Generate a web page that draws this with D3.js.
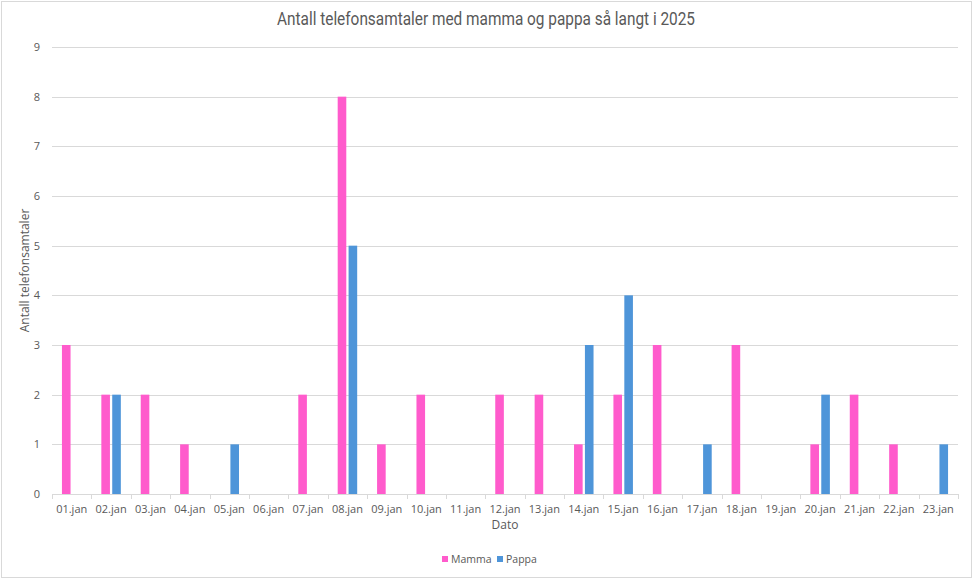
<!DOCTYPE html>
<html>
<head>
<meta charset="utf-8">
<script src="https://cdn.jsdelivr.net/npm/d3@7"></script>
<style>
  body { margin: 0; background: #fff; }
  svg text { font-family: "Open Sans", "Noto Sans", sans-serif; fill: #595959; }
</style>
</head>
<body>
<div id="chart"></div>
<script>
const dates = ["01.jan","02.jan","03.jan","04.jan","05.jan","06.jan","07.jan","08.jan","09.jan","10.jan","11.jan","12.jan",
  "13.jan","14.jan","15.jan","16.jan","17.jan","18.jan","19.jan","20.jan","21.jan","22.jan","23.jan"];
const mamma = [3,2,2,1,0,0,2,8,1,2,0,2,2,1,2,3,0,3,0,1,2,1,0];
const pappa = [0,2,0,0,1,0,0,5,0,0,0,0,0,3,4,0,1,0,0,2,0,0,1];
const seriesNames = ["Mamma", "Pappa"];
const colors = ["#FF5BCC", "#4E95D9"];
const yTicks = [0,1,2,3,4,5,6,7,8,9];

const W = 973, H = 580;
const margin = { top: 47, right: 15, bottom: 86, left: 52 };
const innerW = W - margin.left - margin.right;
const innerH = H - margin.top - margin.bottom;

const svg = d3.select("#chart").append("svg")
    .attr("width", W)
    .attr("height", H);

// outer chart border
svg.append("rect")
    .attr("x", 1.5).attr("y", 1.5)
    .attr("width", W - 3).attr("height", H - 4)
    .attr("fill", "#fff")
    .attr("stroke", "#d9d9d9");

svg.append("text")
    .attr("x", 486).attr("y", 25)
    .attr("text-anchor", "middle")
    .attr("textLength", 418)
    .attr("lengthAdjust", "spacingAndGlyphs")
    .style("font-family", "Roboto, 'Liberation Sans', sans-serif")
    .style("font-size", "18px")
    .text("Antall telefonsamtaler med mamma og pappa så langt i 2025");

const g = svg.append("g").attr("transform", `translate(${margin.left},${margin.top})`);

const x0 = d3.scaleBand().domain(dates).range([0, innerW]).padding(0);
const y = d3.scaleLinear().domain([0, 9]).range([innerH, 0]);
const half = 9.75;
const x1 = d3.scaleBand().domain(seriesNames)
    .range([x0.bandwidth() / 2 - half, x0.bandwidth() / 2 + half])
    .paddingInner(0.21);

// gridlines
g.append("g")
    .selectAll("line")
    .data(yTicks.filter(d => d > 0))
    .join("line")
    .attr("x1", 0).attr("x2", innerW)
    .attr("y1", d => Math.round(y(d)) + 0.5).attr("y2", d => Math.round(y(d)) + 0.5)
    .attr("stroke", "#d9d9d9");

// y axis labels
g.append("g")
    .selectAll("text")
    .data(yTicks)
    .join("text")
    .attr("x", -12)
    .attr("y", d => y(d) + 4)
    .attr("text-anchor", "end")
    .style("font-size", "11px")
    .text(d => d);

// bars
const rows = dates.map((d, i) => ({ date: d, values: [mamma[i], pappa[i]] }));
const groups = g.append("g")
    .selectAll("g")
    .data(rows)
    .join("g")
    .attr("transform", d => `translate(${x0(d.date)},0)`);

groups.selectAll("rect")
    .data(d => d.values.map((v, k) => ({ key: seriesNames[k], value: v, k })))
    .join("rect")
    .attr("x", d => x1(d.key))
    .attr("width", x1.bandwidth())
    .attr("y", d => y(d.value))
    .attr("height", d => y(0) - y(d.value))
    .attr("fill", d => colors[d.k]);

// x axis
const xAxis = g.append("g").attr("transform", `translate(0,${innerH})`);
xAxis.append("line")
    .attr("x1", 0).attr("x2", innerW)
    .attr("y1", 0.5).attr("y2", 0.5)
    .attr("stroke", "#d9d9d9");
xAxis.selectAll(".tick")
    .data(d3.range(dates.length + 1))
    .join("line")
    .attr("class", "tick")
    .attr("x1", i => Math.round(i * x0.step()) + 0.5)
    .attr("x2", i => Math.round(i * x0.step()) + 0.5)
    .attr("y1", 0).attr("y2", 5)
    .attr("stroke", "#d9d9d9");
xAxis.selectAll("text")
    .data(dates)
    .join("text")
    .attr("x", d => x0(d) + x0.bandwidth() / 2)
    .attr("y", 19)
    .attr("text-anchor", "middle")
    .style("font-size", "11px")
    .text(d => d);

// axis titles
svg.append("text")
    .attr("x", margin.left + innerW / 2)
    .attr("y", 529)
    .attr("text-anchor", "middle")
    .style("font-size", "12px")
    .text("Dato");

svg.append("text")
    .attr("transform", `translate(29,${margin.top + innerH / 2}) rotate(-90)`)
    .attr("text-anchor", "middle")
    .style("font-size", "12px")
    .text("Antall telefonsamtaler");

// legend
const legend = svg.append("g").attr("transform", "translate(442,559)");
const items = [{ name: "Mamma", dx: 0 }, { name: "Pappa", dx: 55 }];
items.forEach((it, k) => {
    legend.append("rect")
        .attr("x", it.dx).attr("y", -3)
        .attr("width", 6).attr("height", 6)
        .attr("fill", colors[k]);
    legend.append("text")
        .attr("x", it.dx + 9).attr("y", 4)
        .style("font-size", "10.5px")
        .text(it.name);
});
</script>
</body>
</html>
